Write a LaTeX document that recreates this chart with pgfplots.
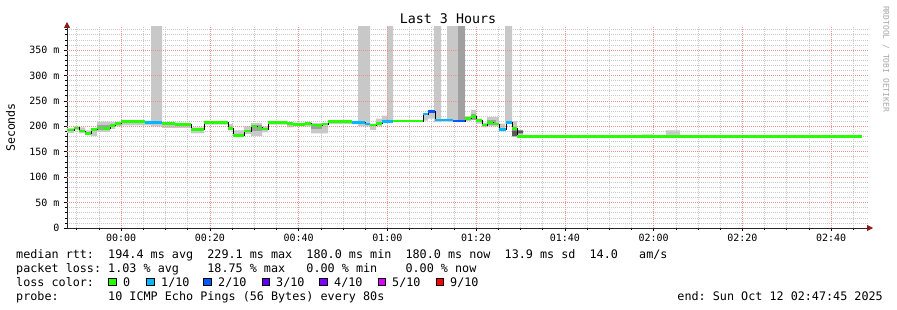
\documentclass[border=0pt]{standalone}
\usepackage{fontspec}
\setmainfont{DejaVu Sans Mono}
\usepackage{pgfplots}
\usepackage{pgfplotstable}
\pgfplotsset{compat=1.18}
\usepgfplotslibrary{fillbetween}
\usetikzlibrary{arrows.meta}
\definecolor{lgreen}{HTML}{26FF00}
\definecolor{lblue}{HTML}{00B8FF}
\definecolor{dblue}{HTML}{0059FF}
\definecolor{lviolet}{HTML}{5E00FF}
\definecolor{violet4}{HTML}{7E00FF}
\definecolor{magenta5}{HTML}{DD00FF}
\definecolor{red9}{HTML}{FF0000}
\definecolor{smoke}{HTML}{C8C8C8}
\definecolor{smokedark}{HTML}{A0A0A0}
\definecolor{smokedeep}{HTML}{5A5A5A}
\definecolor{mgrid}{HTML}{F49090}
\definecolor{ngrid}{HTML}{C8C8C8}
\definecolor{arrowred}{HTML}{8B1A1A}

% median rtt (minutes from 00:00, ms)
\pgfplotstableread{
t v
-12.2 192.7
-10.59 197
-9.46 190.7
-8.11 185.5
-6.76 194
-5.41 197
-3.83 196
-2.48 201
-1.35 206
0 209
5.41 207
9.24 206
12.17 204
15.77 194
18.70 208
24.11 196
25.24 181.5
27.72 190.7
29.30 200.6
30.65 197
31.77 194.7
33.13 208
37.41 206
38.76 204
41.46 206
42.82 202.5
44.17 201
45.30 204.5
46.65 209
52.06 208
54.99 204.5
56.11 202.5
57.46 206
58.82 209
61.30 210.4
68.06 224
69.18 228.7
70.76 212.3
74.82 210.4
77.52 215.6
78.87 219
80.00 211
81.35 202.5
82.48 207
83.83 204.5
85.18 194
86.76 207
88.11 196
89.24 180
166.99 180
}\median

% smoke envelope (minutes, low, high)
\pgfplotstableread{
t lo hi
-12.2 187 197
-10.59 193 200
-9.46 186 198
-8.11 183 192
-6.76 181 197
-5.41 189 209
-2.48 195 208
-1.35 200 208
0 202 210
5.41 202 211
6.76 200 400
9.24 197 208
12.17 197 207
15.77 186 198
18.70 203 210
24.11 192 204
25.24 179 192
27.72 185 200
29.30 181 206
31.77 188 200
33.13 203 210
37.41 198 208
38.76 200 207
41.46 200 208
42.82 186 206
46.65 204 210
53.41 200 400
56.11 193 205
57.46 200 215
58.82 207 221
59.94 207 400
61.30 208 211
68.06 211 226
69.18 215 230
70.54 208 400
72.11 209 213
73.46 208 400
77.52 210 220
78.87 212 232
80.00 205 215
81.35 198 207
82.48 200 218
85.18 190 205
86.54 205 400
88.11 192 210
89.24 180 190
90.59 180 180
96.23 180 183
97.35 180 180
117.41 180 184
120.11 180 180
122.82 180 192
125.97 180 180
166.99 180 180
}\smoketab

\begin{document}
\begin{tikzpicture}
\begin{axis}[
  at={(67pt,82pt)}, anchor=south west,
  scale only axis, width=801pt, height=201pt,
  xmin=-12.2, xmax=168.3, ymin=0, ymax=395.2,
  axis lines=left,
  axis line style={black!85, line width=0.8pt, shorten >=-5pt,
     -{Triangle[length=6pt,width=6pt,color=arrowred,fill=arrowred]}},
  xtick={0,20,...,160},
  xticklabels={00:00,00:20,00:40,01:00,01:20,01:40,02:00,02:20,02:40},
  minor xtick={-10,-5,5,10,15,25,30,35,45,50,55,65,70,75,85,90,95,105,110,115,125,130,135,145,150,155,165},
  ytick={0,50,...,350},
  yticklabels={0,50 m,100 m,150 m,200 m,250 m,300 m,350 m},
  minor ytick={10,20,30,40,60,70,80,90,110,120,130,140,160,170,180,190,210,220,230,240,260,270,280,290,310,320,330,340,360,370,380,390},
  grid=minor,
  every minor grid/.style={draw=ngrid, line width=0.6pt, dash pattern=on 1pt off 1pt},
  tick align=outside, major tick length=3pt, minor tick length=2pt,
  every tick/.style={line width=0.6pt},
  ticklabel style={font=\fontsize{10}{12}\selectfont},
  yticklabel style={xshift=-1pt},
  /pgf/number format/assume math mode=true,
]
% major grid (red dotted)
\pgfplotsinvokeforeach{0,20,...,160}{
  \addplot[mgrid, line width=0.6pt, dash pattern=on 1pt off 1pt, forget plot] coordinates {(#1,0) (#1,395.2)};
}
\pgfplotsinvokeforeach{50,100,...,350}{
  \addplot[mgrid, line width=0.6pt, dash pattern=on 1pt off 1pt, forget plot] coordinates {(-12.2,#1) (168.3,#1)};
}
\addplot[name path=smhi, draw=none, const plot, forget plot] table[x=t, y=hi] {\smoketab};
\addplot[name path=smlo, draw=none, const plot, forget plot] table[x=t, y=lo] {\smoketab};
\addplot[fill=smoke, draw=none, forget plot] fill between[of=smhi and smlo];
% darker smoke parts
\addplot[fill=smokedark, draw=none, forget plot] coordinates {(75.94,210) (77.52,210) (77.52,400) (75.94,400)} -- cycle;
\addplot[fill=smokedeep, draw=none, forget plot] coordinates {(88.11,192) (90.59,192) (90.59,186) (89.24,186) (89.24,180) (88.11,180)} -- cycle;
\addplot[fill=smokedark, draw=none, forget plot] coordinates {(-5.41,193) (-2.48,193) (-2.48,203) (-5.41,203)} -- cycle;
\addplot[fill=smokedark, draw=none, forget plot] coordinates {(29.30,190) (31.77,190) (31.77,203) (29.30,203)} -- cycle;
\addplot[fill=smokedark, draw=none, forget plot] coordinates {(42.82,194) (45.30,194) (45.30,204) (42.82,204)} -- cycle;
\addplot[fill=smokedark, draw=none, forget plot] coordinates {(78.87,213) (80.00,213) (80.00,224) (78.87,224)} -- cycle;
\addplot[fill=smokedark, draw=none, forget plot] coordinates {(82.48,203) (84.5,203) (84.5,212) (82.48,212)} -- cycle;
% median: black steps, then coloured horizontal segments
\addplot[const plot, black, line width=0.9pt, forget plot] table[x=t, y=v] {\median};
\addplot[jump mark left, lgreen, line width=2.6pt, forget plot] table[x=t, y=v] {\median};
\addplot[lblue, line width=2.6pt, forget plot] coordinates {(5.41,207) (9.24,207)};
\addplot[lblue, line width=2.6pt, forget plot] coordinates {(52.06,208) (54.99,208)};
\addplot[lblue, line width=2.6pt, forget plot] coordinates {(54.99,204.5) (56.11,204.5)};
\addplot[lblue, line width=2.6pt, forget plot] coordinates {(58.82,209) (61.30,209)};
\addplot[lblue, line width=2.6pt, forget plot] coordinates {(68.06,224) (69.18,224)};
\addplot[dblue, line width=2.6pt, forget plot] coordinates {(69.18,228.7) (70.76,228.7)};
\addplot[lblue, line width=2.6pt, forget plot] coordinates {(70.76,212.3) (74.82,212.3)};
\addplot[dblue, line width=2.6pt, forget plot] coordinates {(74.82,210.4) (77.52,210.4)};
\addplot[lblue, line width=2.6pt, forget plot] coordinates {(85.18,194) (86.76,194)};
\addplot[lblue, line width=2.6pt, forget plot] coordinates {(86.76,207) (88.11,207)};
\end{axis}

% title
\node[font=\fontsize{13.3}{15}\selectfont, anchor=base, inner sep=0] at (448pt,286.1pt) {Last 3 Hours};
% y label
\node[font=\fontsize{11.6}{14}\selectfont, rotate=90, inner sep=0] at (10.5pt,182.5pt) {Seconds};
% watermark
\node[font=\fontsize{8}{10}\selectfont, text=black!35, rotate=-90, inner sep=0] at (886pt,251pt) {RRDTOOL / TOBI OETIKER};

% legend text
\begin{scope}[every node/.style={font=\fontsize{11.76}{14}\selectfont, anchor=base west, inner sep=0}]
\node at (16pt,51.5pt) {median~rtt:~~194.4~ms~avg~~229.1~ms~max~~180.0~ms~min~~180.0~ms~now~~13.9~ms~sd~~14.0~~~am/s};
\node at (16pt,37.5pt) {packet~loss:~1.03~\%~avg~~~~18.75~\%~max~~~0.00~\%~min~~~~0.00~\%~now};
\node at (16pt,23.5pt) {loss~color:};
\node at (16pt,9.5pt) {probe:~~~~~~~10~ICMP~Echo~Pings~(56~Bytes)~every~80s};
\node[anchor=base east] at (883pt,9.5pt) {end:~Sun~Oct~12~02:47:45~2025};
\draw[fill=lgreen, draw=black, line width=0.8pt] (108.5pt,24.5pt) rectangle (116pt,32pt);
\node at (123pt,23.5pt) {0};
\draw[fill=lblue, draw=black, line width=0.8pt] (146.5pt,24.5pt) rectangle (154pt,32pt);
\node at (161pt,23.5pt) {1/10};
\draw[fill=dblue, draw=black, line width=0.8pt] (203.5pt,24.5pt) rectangle (211pt,32pt);
\node at (218pt,23.5pt) {2/10};
\draw[fill=lviolet, draw=black, line width=0.8pt] (262pt,24.5pt) rectangle (269.5pt,32pt);
\node at (276pt,23.5pt) {3/10};
\draw[fill=violet4, draw=black, line width=0.8pt] (319.5pt,24.5pt) rectangle (327pt,32pt);
\node at (334pt,23.5pt) {4/10};
\draw[fill=magenta5, draw=black, line width=0.8pt] (378pt,24.5pt) rectangle (385.5pt,32pt);
\node at (392pt,23.5pt) {5/10};
\draw[fill=red9, draw=black, line width=0.8pt] (436pt,24.5pt) rectangle (443.5pt,32pt);
\node at (450pt,23.5pt) {9/10};
\end{scope}
\pgfresetboundingbox
\path[use as bounding box] (0pt,0pt) rectangle (897pt,310pt);
\end{tikzpicture}
\end{document}
